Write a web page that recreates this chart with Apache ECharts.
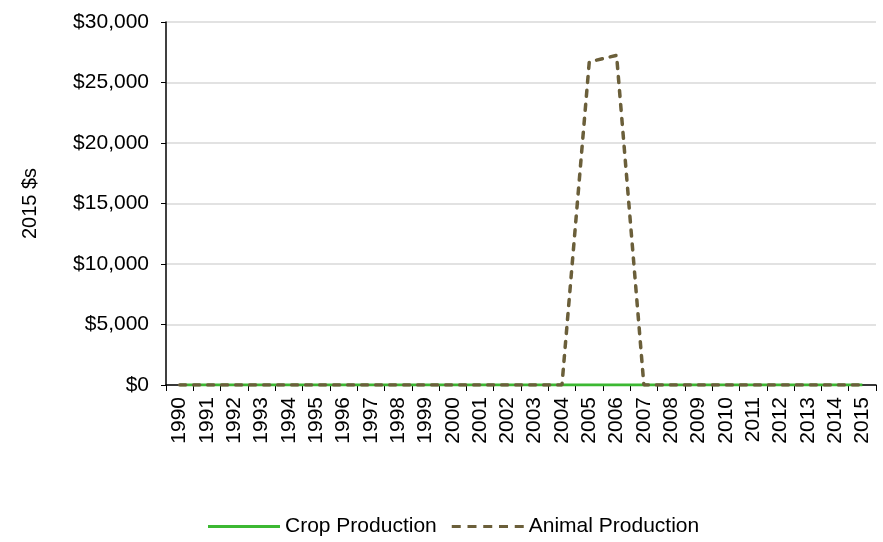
<!DOCTYPE html>
<html>
<head>
<meta charset="utf-8">
<script src="https://cdn.jsdelivr.net/npm/echarts@6/dist/echarts.min.js"></script>
<style>
  html, body { margin: 0; padding: 0; background: #fff; }
  #chart { width: 883px; height: 542px; }
</style>
</head>
<body>
<div id="chart"></div>
<script>
var years = ['1990','1991','1992','1993','1994','1995','1996','1997','1998','1999','2000','2001','2002',
             '2003','2004','2005','2006','2007','2008','2009','2010','2011','2012','2013','2014','2015'];
var cropProduction = [0,0,0,0,0,0,0,0,0,0,0,0,0,0,0,0,0,0,0,0,0,0,0,0,0,0];
var animalProduction = [0,0,0,0,0,0,0,0,0,0,0,0,0,0,0,26700,27250,0,0,0,0,0,0,0,0,0];

var chart = echarts.init(document.getElementById('chart'));
var font = 'Liberation Sans, Arial, sans-serif';

chart.setOption({
    backgroundColor: '#fff',
    animation: false,
    grid: {
        left: 166,
        right: 7,
        top: 22,
        bottom: 157
    },
    legend: {
        bottom: 0,
        left: 203,
        itemWidth: 72,
        itemHeight: 10,
        itemGap: 15,
        itemStyle: { borderWidth: 0 },
        textStyle: { fontFamily: font, fontSize: 21, color: '#000' },
        data: [
            { name: 'Crop Production', icon: 'path://M0,3.5h72v3h-72z' },
            { name: 'Animal Production',
              icon: 'path://M0,3.5h9v3h-9z M15.75,3.5h9v3h-9z M31.5,3.5h9v3h-9z M47.25,3.5h9v3h-9z M63,3.5h9v3h-9z' }
        ]
    },
    xAxis: {
        type: 'category',
        data: years,
        boundaryGap: true,
        axisLine: { lineStyle: { color: '#000', width: 1.5 } },
        axisTick: { show: true, interval: 0, length: 6, lineStyle: { color: '#000' } },
        axisLabel: {
            interval: 0,
            rotate: 90,
            fontFamily: font,
            fontSize: 21,
            color: '#000',
            margin: 12
        }
    },
    yAxis: {
        type: 'value',
        min: 0,
        max: 30000,
        interval: 5000,
        name: '2015 $s',
        nameLocation: 'middle',
        nameRotate: 90,
        nameGap: 126,
        nameTextStyle: { fontFamily: font, fontSize: 20, color: '#000' },
        axisLine: { show: true, lineStyle: { color: '#000', width: 1.5 } },
        axisTick: { show: true, length: 5, lineStyle: { color: '#000' } },
        axisLabel: {
            fontFamily: font,
            fontSize: 21,
            color: '#000',
            margin: 17,
            formatter: function (v) {
                return '$' + v.toLocaleString('en-US');
            }
        },
        splitLine: { lineStyle: { color: '#d9d9d9', width: 1.5 } }
    },
    series: [
        {
            name: 'Crop Production',
            type: 'line',
            data: cropProduction,
            symbol: 'none',
            color: '#3cb832',
            lineStyle: { color: '#3cb832', width: 3 }
        },
        {
            name: 'Animal Production',
            type: 'line',
            data: animalProduction,
            symbol: 'none',
            color: '#6b5f3a',
            z: 3,
            lineStyle: { color: '#6b5f3a', width: 3.5, type: [6, 8], cap: 'round' }
        }
    ]
});

window.addEventListener('resize', function () {
    chart.resize();
});
</script>
</body>
</html>
